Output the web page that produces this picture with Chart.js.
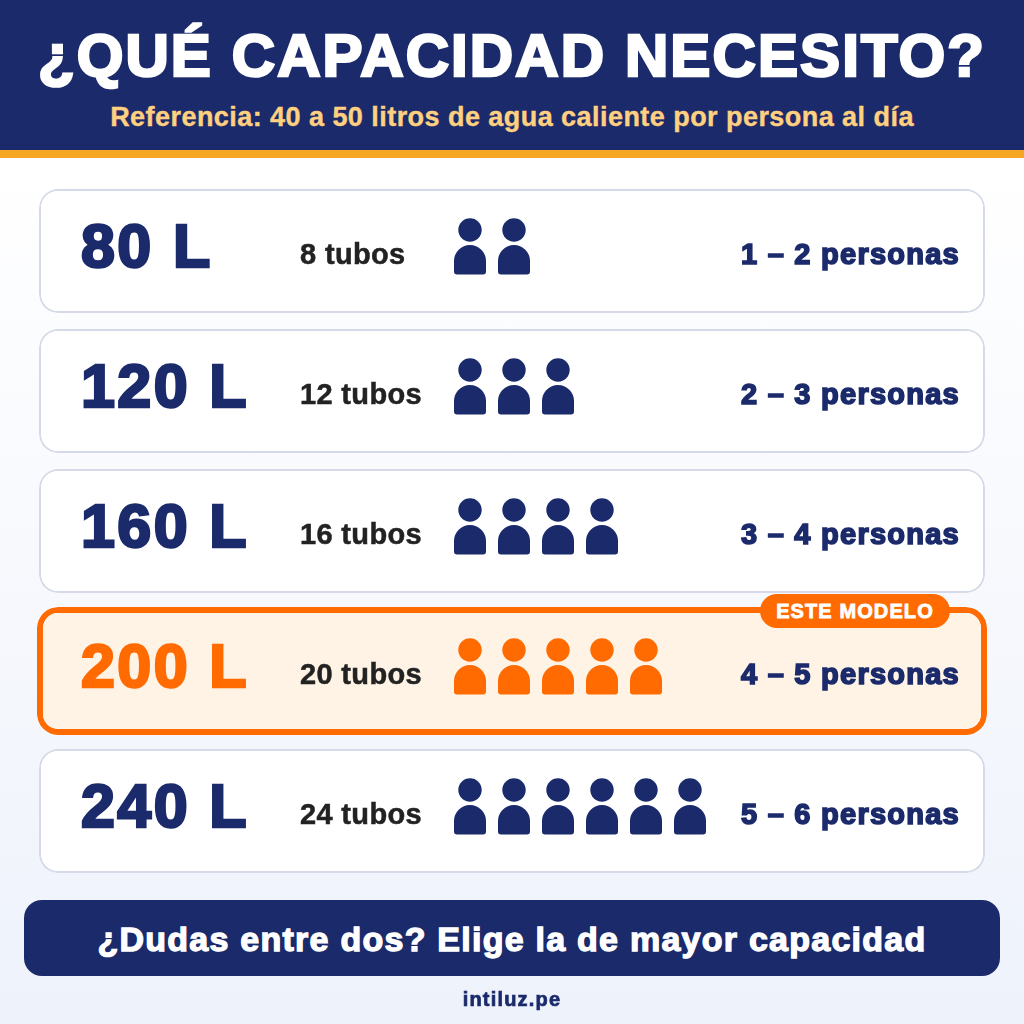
<!DOCTYPE html>
<html lang="es">
<head>
<meta charset="utf-8">
<script src="https://cdn.jsdelivr.net/npm/chart.js@4"></script>
<style>
html,body{margin:0;padding:0;width:1024px;height:1024px;overflow:hidden;}
body{position:relative;font-family:"Liberation Sans",Arial,sans-serif;font-weight:700;background:linear-gradient(#ffffff 158px,#eef2fb 100%);}
#header{position:absolute;left:0;top:0;width:1024px;height:150px;background:#1b2a6b;border-bottom:8px solid #f5a623;}
.t{position:absolute;left:0;width:1024px;text-align:center;white-space:nowrap;}
#title{top:21px;font-size:60px;line-height:70px;letter-spacing:2.1px;color:#fff;-webkit-text-stroke:2.6px #fff;}
#sub{top:101px;font-size:27px;line-height:32px;letter-spacing:.45px;color:#ffd080;-webkit-text-stroke:.4px #ffd080;}
#chartBox{position:absolute;left:0;top:0;width:1024px;height:1024px;}
#badge{position:absolute;left:760px;top:594px;width:190px;height:34px;border-radius:17px;background:#ff6b00;color:#fff;text-align:center;font-size:20px;line-height:34px;-webkit-text-stroke:.8px #fff;letter-spacing:1.1px;}
#cta{position:absolute;left:24px;top:900px;width:952px;height:76px;padding:0 12px;border-radius:18px;background:#1b2a6b;color:#fff;text-align:center;font-size:34px;line-height:78px;letter-spacing:1.25px;-webkit-text-stroke:1.3px #fff;white-space:nowrap;}
#site{top:987px;font-size:20px;line-height:24px;color:#1b2a6b;letter-spacing:1.2px;-webkit-text-stroke:.7px #1b2a6b;}
</style>
</head>
<body>
<div id="header"></div>
<div id="title" class="t">¿QUÉ CAPACIDAD NECESITO?</div>
<div id="sub" class="t">Referencia: 40 a 50 litros de agua caliente por persona al día</div>
<div id="chartBox"><canvas id="c" width="1024" height="1024"></canvas></div>
<div id="badge">ESTE MODELO</div>
<div id="cta">¿Dudas entre dos? Elige la de mayor capacidad</div>
<div id="site" class="t">intiluz.pe</div>
<script>
const capacities = ['80 L', '120 L', '160 L', '200 L', '240 L'];
const tubes = ['8 tubos', '12 tubos', '16 tubos', '20 tubos', '24 tubos'];
const peopleRanges = ['1 – 2 personas', '2 – 3 personas', '3 – 4 personas', '4 – 5 personas', '5 – 6 personas'];
const peopleIcons = [2, 3, 4, 5, 6];
const highlighted = '200 L';

const NAVY = '#1b2a6b', ORANGE = '#ff6b00';
const FONT = '"Liberation Sans", Arial, sans-serif';

function personIcon(color) {
  const cv = document.createElement('canvas');
  cv.width = 36; cv.height = 66;
  const g = cv.getContext('2d');
  g.fillStyle = color;
  g.beginPath(); g.arc(18, 12, 11.7, 0, Math.PI * 2); g.fill();
  g.beginPath();
  g.roundRect(2, 27, 32, 29.5, [16, 16, 3, 3]);
  g.fill();
  return cv;
}
const navyIcon = personIcon(NAVY), orangeIcon = personIcon(ORANGE);

const slots = capacities.flatMap((c, i) =>
  Array.from({length: peopleIcons[i]}, (_, k) => ({x: k + 1, y: c})));

const spacingPlugin = {
  id: 'labelSpacing',
  afterLayout(chart) {
    const sp = {y: '2.4px', y2: '1.25px', y3: '0.35px'};
    for (const id in sp) {
      const s = chart.scales[id];
      if (s.__wrapped) continue;
      const orig = s.drawLabels;
      s.drawLabels = function (a) {
        chart.ctx.letterSpacing = sp[id];
        orig.call(this, a);
        chart.ctx.letterSpacing = '0px';
      };
      s.__wrapped = true;
    }
  }
};

function rowAxis(labels, position, padding, font, stroke, color, labelOffset) {
  return {
    type: 'category', axis: 'y', position, labels, offset: true,
    grid: {display: false, drawTicks: false},
    border: {display: false},
    afterFit(s) {
      s.width = 0;
      s.paddingTop = s.paddingBottom = s.paddingLeft = s.paddingRight = 0;
    },
    ticks: {
      mirror: true, autoSkip: false, padding, labelOffset, z: 1,
      font: {family: FONT, weight: 'bold', size: font},
      color, textStrokeWidth: stroke, textStrokeColor: color
    }
  };
}

new Chart(document.getElementById('c'), {
  type: 'scatter',
  plugins: [spacingPlugin],
  data: {
    datasets: [
      {
        type: 'scatter', order: 0, data: slots, xAxisID: 'x', yAxisID: 'y',
        pointStyle: ctx => (ctx.raw && ctx.raw.y === highlighted) ? orangeIcon : navyIcon,
        pointRadius: 10
      },
      {
        type: 'bar', indexAxis: 'y', order: 1, grouped: false, clip: false,
        xAxisID: 'x', yAxisID: 'y', barThickness: 124,
        data: capacities.filter(c => c !== highlighted).map(c => ({y: c, x: [-8.795, 12.705]})),
        backgroundColor: '#ffffff', borderColor: '#d5d9e8', borderWidth: 2,
        borderRadius: 19, borderSkipped: false, inflateAmount: 0
      },
      {
        type: 'bar', indexAxis: 'y', order: 1, grouped: false, clip: false,
        xAxisID: 'x', yAxisID: 'y', barThickness: 128,
        data: [{y: highlighted, x: [-8.841, 12.75]}],
        backgroundColor: '#fff3e6', borderColor: ORANGE, borderWidth: 6,
        borderRadius: 21, borderSkipped: false, inflateAmount: 0
      }
    ]
  },
  options: {
    responsive: false, animation: false, events: [],
    layout: {autoPadding: false, padding: {top: 181, bottom: 143, left: 0, right: 0}},
    plugins: {legend: {display: false}, tooltip: {enabled: false}, title: {display: false}},
    scales: {
      x: {
        type: 'linear', display: false,
        min: -426 / 44, max: (1024 - 426) / 44,
        grid: {display: false}
      },
      y: rowAxis(capacities, 'left', 81, 61, 2.6,
        ctx => capacities[ctx.index] === highlighted ? ORANGE : NAVY, -1),
      y3: rowAxis(tubes, 'left', 300, 29, 0.5, '#222222', 5),
      y2: rowAxis(peopleRanges, 'right', -64, 29, 1.6, NAVY, 5)
    }
  }
});
</script>
</body>
</html>
